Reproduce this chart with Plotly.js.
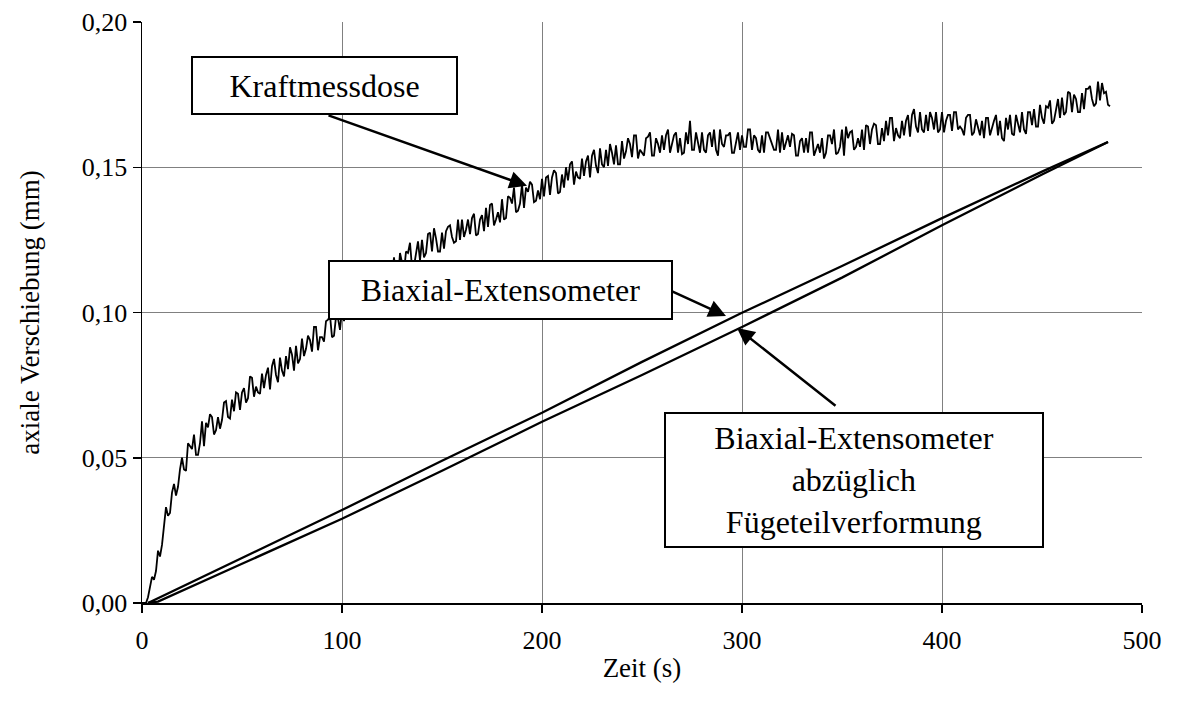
<!DOCTYPE html>
<html>
<head>
<meta charset="utf-8">
<script src="https://cdn.plot.ly/plotly-3.0.1.min.js"></script>
<style>html,body{margin:0;padding:0;background:#fff;}#chart{width:1178px;height:715px;}</style>
</head>
<body>
<div id="chart"></div>
<script>
// Kraftmessdose (noisy signal), time in s
const timeKraft = [0,1,2,3,4,5,6,7,8,9,10,11,12,13,14,15,16,17,18,19,20,21,22,23,24,25,26,27,28,29,30,31,32,33,34,35,36,37,38,39,40,41,42,43,44,45,46,47,48,49,50,51,52,53,54,55,56,57,58,59,60,61,62,63,64,65,66,67,68,69,70,71,72,73,74,75,76,77,78,79,80,81,82,83,84,85,86,87,88,89,90,91,92,93,94,95,96,97,98,99,
100,101,102,103,104,105,106,107,108,109,110,111,112,113,114,115,116,117,118,119,120,121,122,123,124,125,126,127,128,129,130,131,132,133,134,135,136,137,138,139,140,141,142,143,144,145,146,147,148,149,150,151,152,153,154,155,156,157,158,159,160,161,162,163,164,165,166,167,168,169,170,171,172,173,174,175,176,177,178,179,180,181,182,183,184,185,186,187,188,189,190,191,192,193,194,195,196,197,198,199,
200,201,202,203,204,205,206,207,208,209,210,211,212,213,214,215,216,217,218,219,220,221,222,223,224,225,226,227,228,229,230,231,232,233,234,235,236,237,238,239,240,241,242,243,244,245,246,247,248,249,250,251,252,253,254,255,256,257,258,259,260,261,262,263,264,265,266,267,268,269,270,271,272,273,274,275,276,277,278,279,280,281,282,283,284,285,286,287,288,289,290,291,292,293,294,295,296,297,298,299,
300,301,302,303,304,305,306,307,308,309,310,311,312,313,314,315,316,317,318,319,320,321,322,323,324,325,326,327,328,329,330,331,332,333,334,335,336,337,338,339,340,341,342,343,344,345,346,347,348,349,350,351,352,353,354,355,356,357,358,359,360,361,362,363,364,365,366,367,368,369,370,371,372,373,374,375,376,377,378,379,380,381,382,383,384,385,386,387,388,389,390,391,392,393,394,395,396,397,398,399,
400,401,402,403,404,405,406,407,408,409,410,411,412,413,414,415,416,417,418,419,420,421,422,423,424,425,426,427,428,429,430,431,432,433,434,435,436,437,438,439,440,441,442,443,444,445,446,447,448,449,450,451,452,453,454,455,456,457,458,459,460,461,462,463,464,465,466,467,468,469,470,471,472,473,474,475,476,477,478,479,480,481,482,483,484];
const kraftmessdose = [
0.000,0.000,0.000,0.002,0.006,0.009,0.008,0.011,0.018,0.016,
0.020,0.028,0.033,0.030,0.031,0.038,0.041,0.037,0.040,0.046,
0.050,0.046,0.0455,0.055,0.054,0.053,0.058,0.051,0.051,0.055,
0.0625,0.054,0.062,0.0605,0.065,0.064,0.058,0.0595,0.064,0.060,
0.063,0.069,0.0695,0.064,0.0635,0.070,0.066,0.0725,0.072,0.0665,
0.0725,0.074,0.069,0.0705,0.078,0.0775,0.071,0.0745,0.0725,0.072,
0.079,0.074,0.0785,0.081,0.0735,0.0815,0.084,0.0785,0.076,0.0845,
0.080,0.078,0.085,0.0805,0.088,0.0855,0.080,0.0885,0.0825,0.084,
0.091,0.085,0.0875,0.092,0.0905,0.0865,0.095,0.095,0.087,0.0915,
0.0915,0.090,0.097,0.0975,0.099,0.0915,0.092,0.0985,0.098,0.094,
0.101,0.097,0.1025,0.104,0.0975,0.1015,0.107,0.107,0.099,0.1065,
0.1015,0.102,0.109,0.1055,0.112,0.105,0.104,0.1125,0.1105,0.107,
0.114,0.109,0.1075,0.117,0.116,0.1125,0.119,0.1125,0.111,0.1205,
0.1165,0.114,0.121,0.1205,0.124,0.1155,0.116,0.1205,0.1245,0.118,
0.125,0.119,0.1205,0.127,0.1275,0.121,0.129,0.1255,0.121,0.121,
0.1275,0.122,0.128,0.1295,0.130,0.126,0.124,0.1245,0.132,0.125,
0.132,0.126,0.1285,0.132,0.127,0.1325,0.134,0.1265,0.127,0.132,
0.1335,0.128,0.136,0.1295,0.137,0.1375,0.130,0.132,0.1345,0.131,
0.139,0.132,0.1325,0.140,0.1395,0.1375,0.143,0.1345,0.135,0.1375,
0.144,0.136,0.143,0.1415,0.145,0.144,0.138,0.1385,0.142,0.139,
0.146,0.140,0.1465,0.147,0.1405,0.1465,0.149,0.148,0.141,0.1415,
0.1475,0.143,0.150,0.1455,0.151,0.152,0.144,0.1485,0.1465,0.146,
0.153,0.147,0.152,0.154,0.1465,0.154,0.156,0.1505,0.148,0.1565,
0.151,0.150,0.156,0.1505,0.158,0.155,0.151,0.1575,0.151,0.151,
0.159,0.153,0.1555,0.160,0.158,0.1535,0.161,0.161,0.153,0.156,
0.155,0.154,0.160,0.1605,0.162,0.154,0.154,0.160,0.158,0.155,
0.161,0.156,0.161,0.163,0.155,0.158,0.161,0.162,0.155,0.160,
0.1545,0.155,0.162,0.158,0.166,0.156,0.156,0.162,0.159,0.155,
0.162,0.156,0.155,0.161,0.162,0.157,0.163,0.156,0.154,0.163,
0.158,0.157,0.161,0.161,0.162,0.155,0.155,0.159,0.162,0.156,
0.161,0.157,0.157,0.163,0.163,0.156,0.161,0.160,0.156,0.155,
0.161,0.155,0.162,0.162,0.160,0.158,0.156,0.156,0.163,0.155,
0.162,0.156,0.159,0.161,0.157,0.1615,0.161,0.154,0.154,0.159,
0.160,0.155,0.160,0.155,0.162,0.162,0.154,0.156,0.158,0.155,
0.160,0.153,0.155,0.161,0.161,0.158,0.163,0.1545,0.155,0.157,
0.163,0.154,0.164,0.160,0.162,0.1625,0.156,0.157,0.160,0.157,
0.163,0.156,0.1645,0.164,0.158,0.163,0.165,0.1645,0.158,0.158,
0.1635,0.159,0.166,0.161,0.167,0.167,0.159,0.1635,0.161,0.160,
0.166,0.161,0.166,0.168,0.1605,0.168,0.170,0.164,0.162,0.169,
0.163,0.162,0.168,0.1625,0.169,0.167,0.163,0.169,0.162,0.163,
0.169,0.162,0.166,0.168,0.168,0.1625,0.169,0.169,0.163,0.164,
0.163,0.161,0.167,0.168,0.168,0.161,0.162,0.1665,0.164,0.161,
0.166,0.160,0.167,0.167,0.161,0.164,0.166,0.168,0.161,0.166,
0.160,0.159,0.167,0.163,0.168,0.1615,0.161,0.168,0.165,0.162,
0.169,0.163,0.1615,0.169,0.169,0.1645,0.170,0.164,0.164,0.1715,
0.167,0.165,0.171,0.1705,0.173,0.165,0.166,0.1695,0.1735,0.167,
0.174,0.168,0.169,0.176,0.1755,0.169,0.175,0.1735,0.169,0.169,
0.1755,0.170,0.177,0.177,0.178,0.1735,0.171,0.172,0.1795,0.173,
0.179,0.1755,0.176,0.1715,0.171];

// Biaxial-Extensometer
const timeExt = [3,50,100,150,200,250,300,350,400,450,483];
const biaxialExt = [0.0000,0.0155,0.0320,0.0490,0.0655,0.0830,0.0999,0.1160,0.1325,0.1485,0.1587];

// Biaxial-Extensometer abzüglich Fügeteilverformung
const timeExtKorr = [3,8,50,100,150,200,250,300,350,400,450,483];
const biaxialExtKorr = [0.0000,0.0005,0.0135,0.0290,0.0455,0.0624,0.0785,0.0950,0.1120,0.1300,0.1475,0.1587];

const xTicks = [0,100,200,300,400,500];
const yTicks = [0,0.05,0.10,0.15,0.20];

const labelKraft = 'Kraftmessdose';
const labelExt = 'Biaxial-Extensometer';
const labelExtKorr = 'Biaxial-Extensometer<br>abzüglich<br>Fügeteilverformung';

const serif = 'Liberation Serif, Times New Roman, serif';

const traces = [
  {x: timeKraft, y: kraftmessdose, type: 'scatter', mode: 'lines', name: labelKraft,
   line: {color: '#000', width: 1.8}},
  {x: timeExt, y: biaxialExt, type: 'scatter', mode: 'lines', name: labelExt,
   line: {color: '#000', width: 2.3}},
  {x: timeExtKorr, y: biaxialExtKorr, type: 'scatter', mode: 'lines', name: 'Biaxial-Extensometer abzüglich Fügeteilverformung',
   line: {color: '#000', width: 2.3}}
];

const boxStyle = {showarrow: false, bgcolor: '#fff', bordercolor: '#000', borderwidth: 2, borderpad: 0,
  font: {family: serif, size: 32, color: '#000'}, xref: 'x', yref: 'y'};
const arrowStyle = {text: '', showarrow: true, arrowhead: 2, arrowsize: 1.4, arrowwidth: 2.5, arrowcolor: '#000',
  standoff: 0, startstandoff: 0, xref: 'x', yref: 'y'};

const layout = {
  width: 1178, height: 715,
  margin: {l: 142, r: 36, t: 22, b: 112},
  paper_bgcolor: '#fff', plot_bgcolor: '#fff',
  showlegend: false,
  separators: ',.',
  font: {family: serif, size: 26, color: '#000'},
  xaxis: {
    range: [0, 500], tickvals: xTicks, ticktext: xTicks.map(String),
    showgrid: true, gridcolor: '#808080', gridwidth: 1, zeroline: false,
    showline: true, linecolor: '#000', linewidth: 1.5,
    ticks: 'outside', ticklen: 8, tickcolor: '#000', tickwidth: 1.5,
    ticklabelstandoff: 5,
    tickfont: {family: serif, size: 26, color: '#000'},
    title: {text: 'Zeit (s)', font: {family: serif, size: 27, color: '#000'}, standoff: 4}
  },
  yaxis: {
    range: [0, 0.20], tickvals: yTicks, tickformat: '.2f',
    showgrid: true, gridcolor: '#808080', gridwidth: 1, zeroline: false,
    showline: true, linecolor: '#000', linewidth: 1.5,
    ticks: 'outside', ticklen: 8, tickcolor: '#000', tickwidth: 1.5,
    tickfont: {family: serif, size: 26, color: '#000'},
    title: {text: 'axiale Verschiebung (mm)', font: {family: serif, size: 27, color: '#000'}, standoff: 34}
  },
  annotations: [
    Object.assign({}, arrowStyle, {x: 192.5, y: 0.1436, ax: -200, ay: -71}),
    Object.assign({}, arrowStyle, {x: 292, y: 0.0988, ax: -57, ay: -26}),
    Object.assign({}, arrowStyle, {x: 297.5, y: 0.0947, ax: 100, ay: 79}),
    Object.assign({}, boxStyle, {x: 91.25, y: 0.1781, text: labelKraft, width: 263, height: 55}),
    Object.assign({}, boxStyle, {x: 179.25, y: 0.1078, text: labelExt, width: 341, height: 56}),
    Object.assign({}, boxStyle, {x: 356, y: 0.0423, text: labelExtKorr, width: 376, height: 132})
  ]
};

Plotly.newPlot('chart', traces, layout, {displayModeBar: false, staticPlot: true});
</script>
</body>
</html>
